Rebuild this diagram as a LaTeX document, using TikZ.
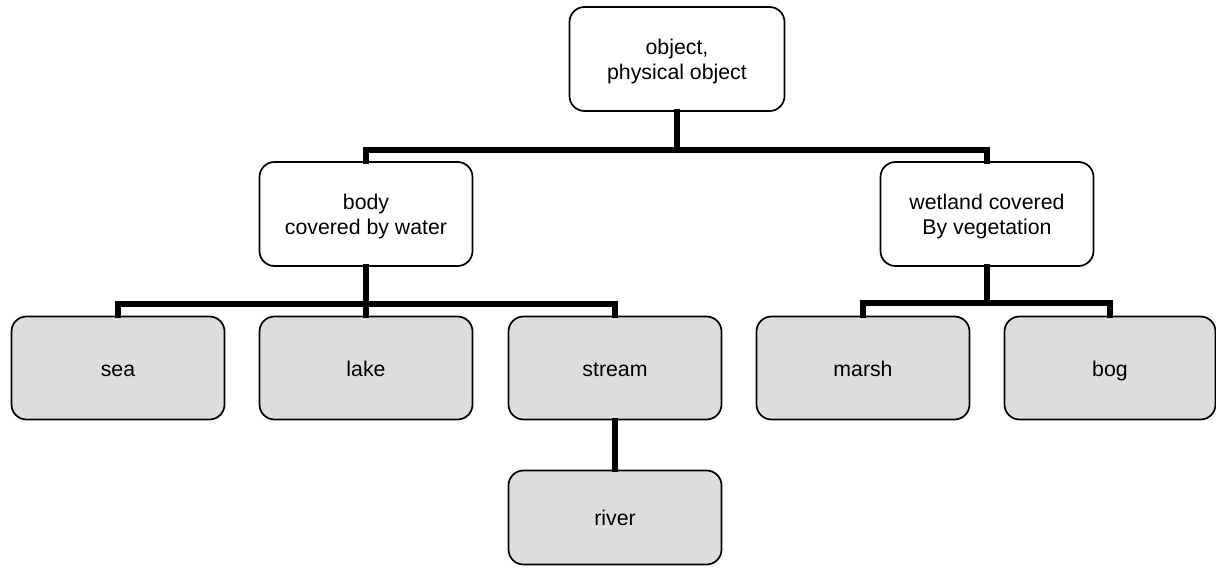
\documentclass[tikz,border=0pt]{standalone}
\usepackage{fontspec}
\setmainfont{Liberation Sans}
\begin{document}
\begin{tikzpicture}[x=1pt,y=-1pt,
  box/.style={draw=black, line width=1.7pt, rounded corners=15pt,
    minimum width=213pt, minimum height=103pt, align=center,
    inner sep=0pt, font=\fontsize{21.3}{25.5}\selectfont},
  upper/.style={box, fill=white, minimum height=104pt},
  leaf/.style={box, fill=black!13.5, text height=17pt, text depth=1pt},
  conn/.style={line width=5.4pt, line join=miter, line cap=rect}]
\useasboundingbox (0,0) rectangle (1216,573);

% nodes
\node[upper, minimum width=215pt] (top) at (677,59) {\rule{0pt}{20pt}object,\\physical object};
\node[upper] (body) at (366,214) {\rule{0pt}{20pt}body\\covered by water};
\node[upper] (wet) at (987,214) {\rule{0pt}{20pt}wetland covered\\By vegetation};
\node[leaf] (sea) at (118,368) {sea};
\node[leaf] (lake) at (366,368) {lake};
\node[leaf] (stream) at (615,368) {stream};
\node[leaf, minimum height=94pt] (river) at (615,517.5) {river};
\node[leaf] (marsh) at (863,368) {marsh};
\node[leaf, minimum width=211pt] (bog) at (1110,368) {bog};

% junction points of the tree bars
\coordinate (j1) at (677,150);
\coordinate (j2) at (366,304);
\coordinate (j3) at (987,303);

% connectors
\draw[conn] (top.south) -- (j1);
\draw[conn] (body.north) |- (j1) -| (wet.north);
\draw[conn] (body.south) -- (j2);
\draw[conn] (sea.north) |- (j2) -| (stream.north);
\draw[conn] (j2) -- (lake.north);
\draw[conn] (wet.south) -- (j3);
\draw[conn] (marsh.north) |- (j3) -| (bog.north);
\draw[conn] (stream.south) -- (river.north);
\end{tikzpicture}
\end{document}
